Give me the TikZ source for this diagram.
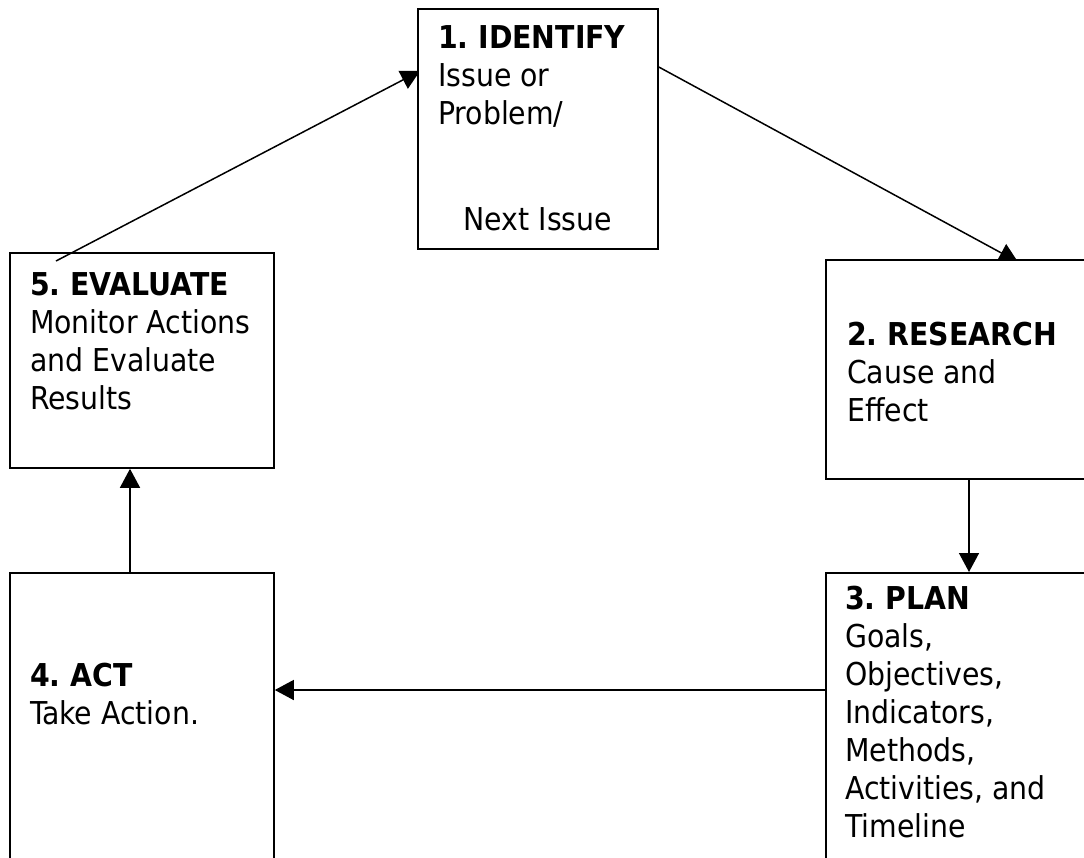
\documentclass[tikz,border=0pt]{standalone}
\usepackage{fontspec}
\setmainfont{DejaVu Sans Condensed}
\frenchspacing
\usetikzlibrary{arrows.meta, positioning, backgrounds}

\tikzset{
  stage/.style={draw, line width=1.8pt, anchor=north west, inner sep=0pt},
  stagetext/.style={anchor=north west, inner sep=0pt, align=left,
    font=\fontsize{31.5}{38}\selectfont},
  flow/.style={line width=1.5pt, -{Triangle[length=19pt,width=20pt]}}
}

\begin{document}
\begin{tikzpicture}[x=1pt, y=-1pt]
\useasboundingbox (0,0) rectangle (1084,857);
\clip (0,0) rectangle (1084,857);

\node[stage, fill=white, minimum width=240pt, minimum height=240pt] (identify) at (417,8) {};
\node[stage, fill=white, minimum width=300pt, minimum height=219pt] (research) at (825,259) {};
\node[stage, minimum width=300pt, minimum height=320pt] (plan) at (825,572) {};
\node[stage, minimum width=264pt, minimum height=320pt] (act) at (9,572) {};
\node[stage, minimum width=264pt, minimum height=215pt] (evaluate) at (9,252) {};

\node[stagetext, below right=17pt and 21pt of identify.north west] (identifytext)
  {\textbf{1. IDENTIFY}\\ Issue or\\ Problem/};
\node[stagetext, anchor=base] (identifynext) at ([yshift=19pt]identify.south) {Next Issue};
\node[stagetext, below right=63pt and 22pt of research.north west] (researchtext)
  {\textbf{2. RESEARCH}\\ Cause and\\ Effect};
\node[stagetext, below right=14pt and 20pt of plan.north west] (plantext)
  {\textbf{3. PLAN}\\ Goals,\\ Objectives,\\ Indicators,\\ Methods,\\ Activities, and\\ Timeline};
\node[stagetext, below right=91pt and 21pt of act.north west] (acttext)
  {\textbf{4. ACT}\\ Take Action.};
\node[stagetext, below right=20pt and 21pt of evaluate.north west] (evaluatetext)
  {\textbf{5. EVALUATE}\\ Monitor Actions\\ and Evaluate\\ Results};

\coordinate (evalstart) at (56,261);
\begin{pgfonlayer}{background}
\draw[flow] (evalstart) -- ([xshift=3pt,yshift=-63pt]identify.north west);
\draw[flow] ([yshift=-59pt]identify.north east) -- ([xshift=193pt,yshift=-3pt]research.north west);
\end{pgfonlayer}
\draw[flow] ([xshift=144pt]research.south west) -- ([xshift=144pt]plan.north west);
\draw[flow] ([yshift=-118pt]plan.north west) -- ([yshift=-118pt]act.north east);
\draw[flow] ([xshift=121pt]act.north west) -- ([xshift=121pt]evaluate.south west);

\end{tikzpicture}
\end{document}
